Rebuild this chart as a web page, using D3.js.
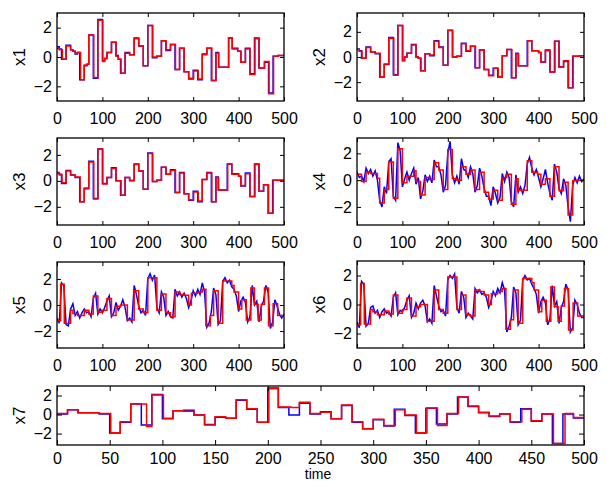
<!DOCTYPE html>
<html>
<head>
<meta charset="utf-8">
<script src="https://cdn.jsdelivr.net/npm/d3@7"></script>
<style>
  body { margin: 0; background: #fff; }
  svg { display: block; font-family: "Liberation Sans", Arial, sans-serif; }
</style>
</head>
<body>
<svg id="chart" width="607" height="482"></svg>
<script>
// tick labels
const timeTicks = [0, 100, 200, 300, 400, 500];
const timeTicksWide = [0, 50, 100, 150, 200, 250, 300, 350, 400, 450, 500];
const valueTicks = [-2, 0, 2];
const nSamples = 500;

// step series: [start sample, level] (blue = true, red = estimate)
const x1True = [[0,0.7],[5,0.55],[10,-0.15],[20,0.8],[30,0.5],[35,0.4],[40,0.2],[45,0.3],[50,-1.55],[60,-0.6],[66,-0.5],[70,1.5],[80,-1.45],[90,2.55],[100,-0.25],[105,-0.1],[110,0.3],[120,1.0],[130,0.1],[135,-0.15],[140,-1.1],[150,0.3],[160,0.15],[170,1.3],[180,0.75],[190,-0.6],[200,2.15],[210,-0.05],[220,0.05],[230,1.1],[240,0.45],[250,0.85],[260,-0.85],[270,0.6],[280,-1.0],[290,-1.5],[300,-0.9],[310,-1.55],[320,0.2],[330,0.6],[340,-1.6],[350,0.3],[356,-0.7],[378,1.3],[386,0.6],[398,0.4],[405,-0.35],[415,0.6],[425,-1.15],[435,1.3],[445,-0.75],[457,-0.35],[466,-2.45],[476,0.05],[487,0.1]];
const x1Est = [[0,0.6],[5,0.5],[12,-0.15],[20,0.75],[30,0.5],[35,0.4],[40,0.25],[45,0.3],[52,-1.55],[60,-0.55],[66,-0.5],[70,1.5],[81,-1.4],[90,2.5],[101,-0.3],[105,-0.1],[110,0.3],[120,1.0],[130,0.05],[135,-0.15],[141,-1.1],[150,0.25],[160,0.15],[170,1.25],[180,0.75],[190,-0.6],[200,2.15],[211,0.0],[220,0.05],[230,1.1],[240,0.5],[250,0.85],[261,-0.85],[270,0.6],[280,-1.0],[290,-1.45],[301,-0.95],[311,-1.5],[320,0.15],[330,0.6],[341,-1.6],[350,0.25],[356,-0.7],[378,1.3],[386,0.55],[398,0.4],[405,-0.35],[415,0.55],[425,-1.2],[436,1.25],[445,-0.75],[457,-0.3],[467,-2.5],[477,0.05],[487,0.1]];

const x2True = [[0,0.63],[5,0.5],[10,-0.1],[20,0.8],[30,0.4],[40,0.25],[50,-1.6],[60,-0.6],[70,1.55],[80,-1.42],[90,2.5],[100,-0.3],[105,0.0],[110,0.3],[120,1.0],[130,0.0],[135,-0.1],[140,-1.1],[150,0.25],[160,0.1],[170,1.3],[180,0.8],[190,-0.65],[200,2.13],[210,0.0],[220,0.05],[230,1.1],[240,0.45],[250,0.85],[260,-0.85],[270,0.55],[280,-1.0],[290,-1.45],[300,-0.9],[310,-1.6],[320,0.1],[330,0.6],[340,-1.65],[350,0.3],[355,-0.7],[375,1.3],[385,0.5],[400,0.35],[405,-0.4],[415,0.55],[425,-1.2],[435,1.25],[445,-0.8],[455,-0.35],[465,-2.45],[475,0.05],[490,0.1]];
const x2Est = [[0,0.6],[5,0.45],[11,-0.1],[20,0.75],[30,0.4],[40,0.3],[51,-1.6],[60,-0.55],[70,1.5],[81,-1.45],[90,2.5],[101,-0.25],[105,0.0],[110,0.3],[120,0.95],[130,0.0],[135,-0.1],[141,-1.1],[150,0.25],[160,0.15],[170,1.25],[180,0.75],[190,-0.65],[200,2.1],[211,0.0],[220,0.05],[230,1.05],[240,0.5],[250,0.85],[261,-0.85],[270,0.55],[280,-1.0],[290,-1.5],[301,-0.9],[311,-1.55],[320,0.1],[330,0.6],[341,-1.65],[350,0.25],[356,-0.7],[376,1.3],[385,0.5],[400,0.35],[405,-0.4],[415,0.5],[425,-1.2],[436,1.25],[445,-0.8],[455,-0.3],[466,-2.45],[476,0.05],[490,0.1]];

const x3True = [[0,0.65],[5,0.5],[10,-0.2],[20,0.8],[30,0.45],[40,0.25],[50,-1.6],[60,-0.6],[70,1.5],[80,-1.35],[90,2.45],[100,-0.2],[110,0.25],[120,1.0],[130,0.0],[140,-1.1],[150,0.25],[160,0.0],[170,1.3],[180,0.75],[190,-0.65],[200,2.15],[210,-0.05],[220,0.05],[230,1.05],[240,0.5],[250,0.85],[260,-0.9],[270,0.65],[280,-1.0],[290,-1.5],[300,-0.8],[310,-1.6],[320,0.1],[330,0.65],[340,-1.6],[350,0.3],[355,-0.7],[375,1.3],[385,0.55],[400,0.35],[405,-0.4],[415,0.6],[425,-1.2],[435,1.3],[445,-0.8],[455,-0.3],[465,-2.5],[475,0.05]];
const x3Est = [[0,0.6],[5,0.45],[11,-0.15],[20,0.75],[30,0.45],[40,0.3],[51,-1.6],[60,-0.55],[70,1.45],[81,-1.4],[90,2.45],[101,-0.25],[110,0.25],[120,0.95],[130,0.0],[141,-1.1],[150,0.25],[160,0.05],[170,1.25],[180,0.75],[190,-0.65],[200,2.1],[211,-0.05],[220,0.05],[230,1.05],[240,0.5],[250,0.8],[261,-0.9],[270,0.6],[280,-1.0],[290,-1.45],[301,-0.85],[311,-1.55],[320,0.1],[330,0.6],[341,-1.6],[350,0.25],[356,-0.7],[376,1.3],[385,0.5],[400,0.35],[405,-0.35],[415,0.55],[425,-1.2],[436,1.25],[445,-0.8],[455,-0.3],[466,-2.5],[476,0.05]];

// noisy true series, one value every 5 samples (0..500)
const x4True = [0.6,0.2,0.3,-0.1,0.9,0.5,0.8,0.3,0.7,0.0,-1.5,-2.0,-0.5,-1.0,1.4,1.6,-1.2,-1.5,2.8,2.2,-0.5,0.1,0.6,0.0,0.5,0.9,-0.3,0.2,-1.4,-0.8,0.4,-0.1,0.3,-0.2,1.5,1.0,1.0,0.4,-0.9,-0.4,2.0,2.9,0.4,-0.2,0.3,-0.3,1.6,0.8,0.7,0.2,1.0,0.5,-0.9,-0.4,0.9,0.3,-0.6,-1.2,-1.2,-1.9,-0.5,-1.0,-1.7,-1.3,0.5,-0.1,0.6,0.2,-1.6,-2.0,0.4,-0.9,-0.5,-1.0,-0.4,1.2,1.7,0.9,0.4,0.8,0.2,-0.5,0.1,0.8,-0.2,-1.0,-1.5,1.2,0.6,-0.6,-1.0,0.1,-0.4,-2.0,-3.1,-0.4,0.2,-0.2,0.3,-0.1,0.1];
const x4Est = [[0,0.45],[10,-0.1],[20,0.6],[30,0.5],[45,0.15],[50,-1.7],[60,-0.7],[70,1.35],[80,-1.35],[90,2.35],[100,-0.2],[110,0.3],[125,0.7],[130,-0.1],[140,-1.1],[150,0.2],[160,0.05],[170,1.3],[180,0.75],[190,-0.7],[200,2.3],[210,0.1],[220,0.0],[230,1.0],[240,0.45],[250,0.75],[260,-0.7],[270,0.6],[280,-0.9],[290,-1.4],[300,-0.75],[310,-1.5],[320,0.2],[330,0.45],[340,-1.8],[350,0.1],[355,-0.75],[375,1.45],[385,0.6],[398,0.45],[405,-0.3],[415,0.1],[425,-1.2],[435,1.0],[445,-0.8],[455,-0.15],[465,-2.6],[475,-0.05],[485,0.0]];

const x5True = [-1.0,-1.4,1.7,1.5,-1.5,-1.6,-0.3,0.1,-0.8,-0.5,-1.0,-0.6,-0.3,-0.6,-0.5,-0.9,0.5,0.9,-0.7,-0.3,-0.6,-0.2,0.3,0.7,-0.9,-0.6,0.2,-0.4,-0.1,0.4,-0.2,-1.2,-1.0,-1.3,1.5,0.8,-0.1,-0.6,-0.4,-0.8,2.0,2.4,1.9,2.3,-0.2,-0.6,1.0,0.6,-0.8,-0.5,-0.9,-1.0,1.2,0.7,1.0,0.6,0.9,0.5,-0.2,0.3,1.1,0.7,1.2,0.8,1.7,1.0,-1.7,-1.4,-0.5,1.3,0.8,-1.5,-1.2,1.8,2.1,1.7,1.9,1.4,1.2,0.7,-0.5,0.3,0.6,0.2,-1.3,-0.9,1.5,0.0,0.3,-1.3,-0.1,0.3,1.5,1.0,-1.8,-1.3,0.4,-0.1,-0.7,-1.0,-0.7];
const x5Est = [[0,-1.2],[8,1.6],[16,-1.4],[30,-0.4],[35,-0.65],[45,-0.8],[60,-0.4],[70,-0.7],[80,0.7],[90,-0.55],[100,-0.4],[110,0.5],[120,-0.8],[130,-0.1],[140,0.0],[155,-1.15],[170,1.1],[180,-0.3],[190,-0.6],[200,2.1],[220,-0.4],[230,0.85],[240,-0.6],[250,-0.9],[260,1.0],[270,0.8],[280,0.75],[290,0.0],[296,0.9],[310,1.0],[320,1.2],[328,-1.6],[338,-0.8],[345,1.1],[355,-1.4],[365,1.85],[385,1.5],[390,1.0],[400,-0.3],[407,0.4],[417,-1.15],[427,1.3],[435,0.05],[443,-1.15],[450,0.05],[457,1.3],[466,-1.6],[476,0.1],[486,-0.8]];

const x6True = [-1.2,-1.6,1.6,1.4,-1.5,-1.3,-0.2,-0.1,-0.6,-0.4,-0.9,-0.5,-0.3,-0.6,-0.5,-0.8,0.5,0.8,-0.7,-0.4,-0.5,-0.2,0.3,0.6,-0.9,-0.6,0.1,-0.3,0.1,0.3,-0.1,-1.2,-1.0,-1.3,1.3,0.6,-0.1,-0.5,-0.4,-0.8,1.7,2.0,1.8,2.1,-0.2,-0.6,0.9,0.5,-0.9,-0.6,-0.8,-1.0,1.1,0.8,1.0,0.7,0.8,0.5,-0.2,0.2,0.9,0.6,1.1,0.8,1.5,1.0,-1.9,-1.5,-0.9,1.2,0.8,-1.4,-1.1,1.7,2.0,1.7,1.8,1.4,1.1,0.7,-0.6,0.2,0.5,0.1,-1.4,-1.0,1.3,-0.1,0.2,-1.3,-0.2,0.2,1.4,1.0,-1.9,-1.6,0.3,0.0,-0.6,-0.9,-0.9];
const x6Est = [[0,-1.4],[8,1.45],[16,-1.35],[30,-0.35],[35,-0.5],[45,-0.7],[60,-0.45],[70,-0.65],[80,0.65],[90,-0.6],[100,-0.35],[110,0.45],[120,-0.8],[130,-0.15],[140,0.0],[155,-1.15],[170,1.0],[180,-0.35],[190,-0.6],[200,1.9],[220,-0.35],[230,0.65],[240,-0.7],[250,-0.8],[260,1.0],[270,0.9],[280,0.65],[290,0.0],[296,0.75],[310,0.9],[320,1.1],[328,-1.7],[338,-1.05],[345,1.0],[355,-1.3],[365,1.8],[385,1.5],[390,1.0],[400,-0.5],[407,0.3],[417,-1.15],[427,1.2],[435,-0.15],[443,-1.15],[450,-0.1],[457,1.1],[466,-1.75],[476,0.1],[486,-0.8]];

const x7True = [[0,0.07],[10,0.5],[20,0.2],[40,0.05],[50,-1.95],[60,-0.8],[70,1.1],[80,-1.1],[90,2.1],[100,-0.45],[110,0.4],[120,0.45],[130,-0.05],[140,-1.05],[150,-0.28],[160,-0.38],[170,1.5],[180,0.55],[190,-0.8],[200,2.8],[210,0.75],[220,-0.05],[230,1.2],[240,0.07],[250,0.3],[260,-0.45],[270,0.95],[280,-0.8],[290,-1.5],[300,-0.55],[310,-1.2],[320,0.55],[330,-0.1],[340,-1.95],[350,0.65],[360,-1.0],[370,0.07],[380,1.85],[390,0.85],[400,0.2],[410,-0.2],[420,0.05],[430,-0.8],[440,0.6],[450,-0.7],[460,0.07],[470,-3.05],[480,0.05],[490,-0.35]];
const x7Est = [[0,0.1],[10,0.5],[20,0.2],[40,0.1],[51,-1.9],[60,-0.75],[70,1.1],[85,-1.25],[90,2.05],[101,-0.4],[110,0.4],[120,0.35],[130,-0.05],[140,-1.1],[150,-0.22],[160,-0.38],[170,1.55],[180,0.6],[190,-0.8],[201,2.7],[210,0.8],[222,0.75],[230,1.3],[240,0.1],[250,0.25],[260,-0.45],[270,1.0],[280,-0.75],[290,-1.5],[300,-0.5],[310,-1.15],[321,0.5],[330,-0.05],[341,-1.9],[351,0.7],[361,-1.15],[370,0.1],[381,1.85],[390,0.9],[400,0.25],[410,-0.15],[420,0.05],[430,-0.75],[441,0.55],[450,-0.65],[460,0.05],[471,-3.05],[482,0.1],[490,-0.3]];

const panels = [
  { label: "x1", truth: x1True, est: x1Est, yDomain: [-3, 3], box: [57, 13, 284, 101], ticks: timeTicks },
  { label: "x2", truth: x2True, est: x2Est, yDomain: [-3.5, 3.5], box: [357, 13, 584, 101], ticks: timeTicks },
  { label: "x3", truth: x3True, est: x3Est, yDomain: [-3.4, 3.3], box: [57, 138, 284, 225], ticks: timeTicks },
  { label: "x4", truth: x4True, est: x4Est, yDomain: [-3.35, 3.15], box: [357, 138, 584, 225], ticks: timeTicks },
  { label: "x5", truth: x5True, est: x5Est, yDomain: [-3.3, 3.3], box: [57, 262, 284, 348], ticks: timeTicks },
  { label: "x6", truth: x6True, est: x6Est, yDomain: [-3, 3], box: [357, 261, 584, 348], ticks: timeTicks },
  { label: "x7", truth: x7True, est: x7Est, yDomain: [-3.2, 3], box: [57, 386, 584, 445], ticks: timeTicksWide }
];

const svg = d3.select("#chart");

function asPoints(series) {
  if (typeof series[0] === "number") {
    return series.map((v, i) => [i * 5, v]);
  }
  return series.concat([[nSamples, series[series.length - 1][1]]]);
}

panels.forEach((p, i) => {
  const [x0, y0, x1, y1] = p.box;
  const w = x1 - x0, h = y1 - y0;
  const x = d3.scaleLinear().domain([0, nSamples]).range([0, w]);
  const y = d3.scaleLinear().domain(p.yDomain).range([h, 0]);
  const wide = p.label === "x7";
  const tick = wide ? 5 : 4;

  const g = svg.append("g").attr("transform", `translate(${x0},${y0})`);
  g.append("clipPath").attr("id", "clip" + i)
    .append("rect").attr("width", w).attr("height", h);

  const plot = g.append("g").attr("clip-path", `url(#clip${i})`);
  const stepLine = d3.line().x(d => x(d[0])).y(d => y(d[1])).curve(d3.curveStepAfter);
  const noisyLine = d3.line().x(d => x(d[0])).y(d => y(d[1]));

  const truthNoisy = typeof p.truth[0] === "number";
  plot.append("path")
    .attr("d", (truthNoisy ? noisyLine : stepLine)(asPoints(p.truth)))
    .attr("fill", "none").attr("stroke", "#0000ff").attr("stroke-width", 1.5);
  plot.append("path")
    .attr("d", stepLine(asPoints(p.est)))
    .attr("fill", "none").attr("stroke", "#ff0000").attr("stroke-width", 1.5);

  const ax = [
    g.append("g").attr("transform", `translate(0,${h})`)
      .call(d3.axisBottom(x).tickValues(p.ticks).tickSizeInner(-tick).tickSizeOuter(0).tickPadding(wide ? 8 : 11.5)),
    g.append("g")
      .call(d3.axisTop(x).tickValues(p.ticks).tickSizeInner(-tick).tickSizeOuter(0).tickFormat("")),
    g.append("g")
      .call(d3.axisLeft(y).tickValues(valueTicks).tickSizeInner(-tick).tickSizeOuter(0).tickPadding(5).tickFormat(d3.format("d"))),
    g.append("g").attr("transform", `translate(${w},0)`)
      .call(d3.axisRight(y).tickValues(valueTicks).tickSizeInner(-tick).tickSizeOuter(0).tickFormat(""))
  ];
  ax.forEach(a => {
    a.select(".domain").remove();
    a.selectAll("line").attr("stroke", "#000");
    a.selectAll("text").attr("fill", "#000").style("font-size", "16px");
  });

  g.append("rect").attr("width", w).attr("height", h)
    .attr("fill", "none").attr("stroke", "#000").attr("stroke-width", 1.3);

  svg.append("text")
    .attr("transform", `translate(${x0 - 32},${y0 + h / 2}) rotate(-90)`)
    .attr("text-anchor", "middle")
    .style("font-size", "17px")
    .text(p.label);
});

svg.append("text")
  .attr("x", 318).attr("y", 479)
  .attr("text-anchor", "middle")
  .style("font-size", "14px")
  .text("time");
</script>
</body>
</html>
